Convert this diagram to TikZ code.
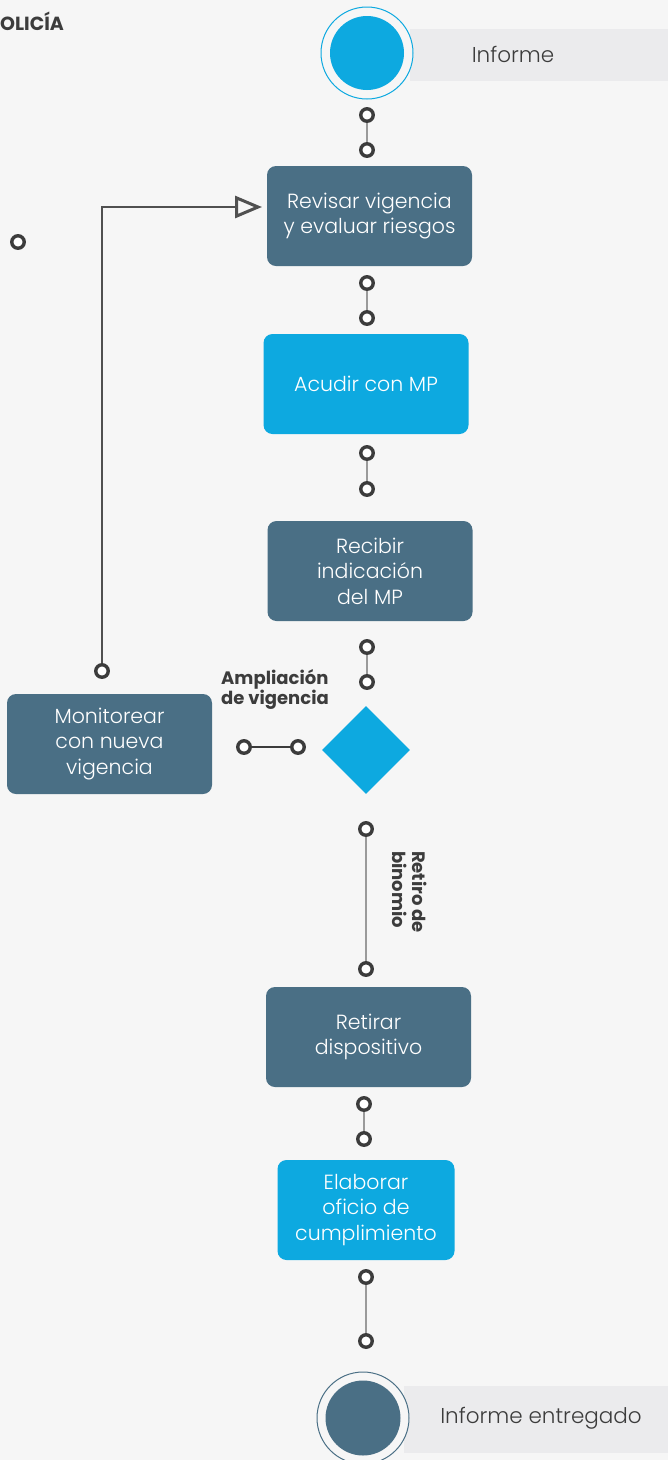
\documentclass[tikz,border=0pt]{standalone}
\usepackage{fontspec}
\setmainfont{Poppins}
\newfontfamily\lightfont{Poppins Light}
\usetikzlibrary{arrows.meta,shapes.geometric}
\definecolor{bg}{HTML}{F6F6F6}
\definecolor{band}{HTML}{EBEBED}
\definecolor{slate}{HTML}{4A6F85}
\definecolor{sky}{HTML}{0DA9E0}
\definecolor{ink}{HTML}{3C3C3C}
\definecolor{wire}{HTML}{9A9A9A}
\tikzset{
  box/.style={rounded corners=9pt, minimum width=#1, minimum height=100pt, text=white, align=center, font=\lightfont\fontsize{20.5}{25.5}\selectfont, inner sep=0pt},
  slatebox/.style={box=#1, fill=slate},
  skybox/.style={box=#1, fill=sky},
  dot/.style={circle, draw=ink, line width=3.4pt, fill=white, minimum size=12.5pt, inner sep=0pt},
  wireline/.style={draw=wire, line width=1.8pt},
  loopline/.style={draw=ink!90, line width=1.2pt},
  lbl/.style={text=ink, font=\bfseries\fontsize{18}{20}\selectfont, align=left},
  bandtext/.style={text=ink, font=\lightfont\fontsize{21.5}{24}\selectfont},
}
\begin{document}
\begin{tikzpicture}[x=1pt,y=-1pt]
\fill[bg] (0,0) rectangle (668,1460);
\useasboundingbox (0,0) rectangle (668,1460);
\node[text=ink, font=\bfseries\fontsize{19}{21}\selectfont, anchor=west, inner sep=0pt] (title) at (0,21) {OLICÍA};
% start event
\fill[band] (410,29) rectangle (668,81);
\node[bandtext] (startlbl) at (513,54) {Informe};
\node[circle, draw=sky, line width=1pt, fill=bg, minimum size=92pt, inner sep=0pt] (start) at (367,53) {};
\node[circle, fill=sky, minimum size=74pt, inner sep=0pt] at (start) {};
% boxes
\node[slatebox=205pt] (b1) at (369.5,216) {Revisar vigencia\\y evaluar riesgos};
\node[skybox=205pt] (b2) at (366,384) {Acudir con MP};
\node[slatebox=205pt] (b3) at (370,571) {Recibir\\indicación\\del MP};
\node[diamond, fill=sky, minimum size=88pt, inner sep=0pt] (gw) at (366,750) {};
\node[slatebox=205pt] (b4) at (109.5,744) {Monitorear\\con nueva\\vigencia};
\node[slatebox=205pt] (b5) at (368.5,1037) {Retirar\\dispositivo};
\node[skybox=177pt] (b6) at (366,1210) {Elaborar\\oficio de\\cumplimiento};
% end event
\fill[band] (404,1386) rectangle (668,1453);
\node[bandtext] (endlbl) at (541,1418) {Informe entregado};
\node[circle, draw=slate, line width=1pt, fill=bg, minimum size=92pt, inner sep=0pt] (end) at (363,1418) {};
\node[circle, fill=slate, minimum size=75pt, inner sep=0pt] at (end) {};
% dots
\node[dot] (d1a) at (367,115) {}; \node[dot] (d1b) at (367,150) {};
\node[dot] (d2a) at (367,283) {}; \node[dot] (d2b) at (367,318) {};
\node[dot] (d3a) at (367,453) {}; \node[dot] (d3b) at (367,489) {};
\node[dot] (d4a) at (367,647) {}; \node[dot] (d4b) at (367,682) {};
\node[dot] (d5a) at (298,747) {}; \node[dot] (d5b) at (244,747) {};
\node[dot] (d6a) at (366,829) {}; \node[dot] (d6b) at (366,969) {};
\node[dot] (d7a) at (364,1104) {}; \node[dot] (d7b) at (364,1139) {};
\node[dot] (d8a) at (366,1277) {}; \node[dot] (d8b) at (366,1341) {};
\node[dot] (dloop) at (102,671) {};
\node[dot] (dlone) at (18,242) {};
% wires
\draw[wireline] (d1a) -- (d1b);
\draw[wireline] (d2a) -- (d2b);
\draw[wireline] (d3a) -- (d3b);
\draw[wireline] (d4a) -- (d4b);
\draw[draw=ink, line width=1.6pt] (d5a) -- (d5b);
\draw[wireline] (d6a) -- (d6b);
\draw[wireline] (d7a) -- (d7b);
\draw[wireline] (d8a) -- (d8b);
\coordinate (corner) at (102,207);
\coordinate (tip) at (262,207);
\draw[loopline, -{Triangle[open, length=27pt, width=22pt, line width=3pt]}] (dloop) -- (corner) -- (tip);
% labels
\node[lbl, anchor=east, inner sep=0pt] (amp) at (329,689) {Ampliación\\de vigencia};
\node[lbl, rotate=-90, anchor=center] (ret) at (410,892) {Retiro de\\binomio};
\end{tikzpicture}
\end{document}
